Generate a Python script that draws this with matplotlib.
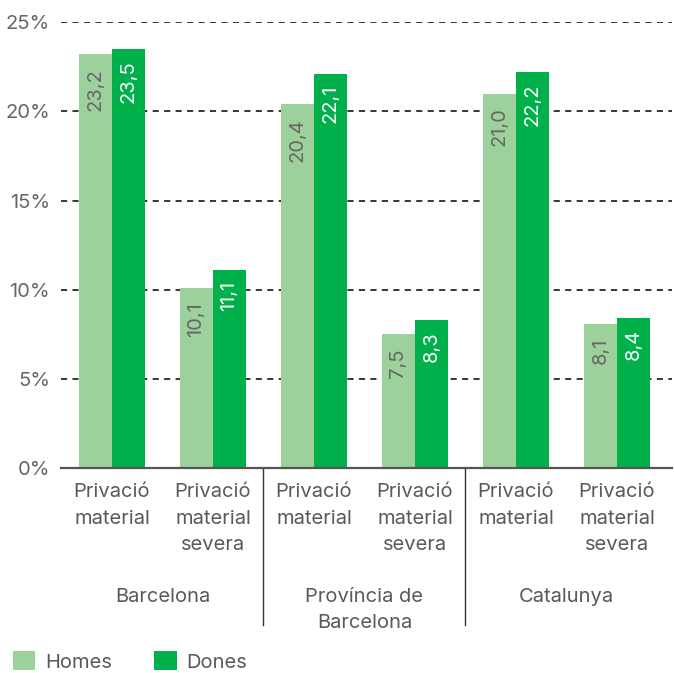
import matplotlib
matplotlib.use("Agg")
import matplotlib.pyplot as plt
import numpy as np
from matplotlib.patches import Patch

plt.rcParams['font.family'] = ['Inter', 'DejaVu Sans']

categories = ["Privació\nmaterial", "Privació\nmaterial\nsevera"] * 3
groups = ["Barcelona", "Província de\nBarcelona", "Catalunya"]
homes = [23.2, 10.1, 20.4, 7.5, 21.0, 8.1]
dones = [23.5, 11.1, 22.1, 8.3, 22.2, 8.4]
yticks = [0, 5, 10, 15, 20, 25]
series_names = ["Homes", "Dones"]

c_light = "#9dd19b"
c_dark = "#00b04b"
grey = "#666666"
text_grey = "#5a5a5a"
FS = 14.5
LS = 1.6

W, H = 674, 673
fig = plt.figure(figsize=(W / 100, H / 100), dpi=100)
ax_left, ax_right = 61 / W, 672 / W
ax_bottom, ax_top = 1 - 468 / H, 1 - 22.3 / H
ax = fig.add_axes([ax_left, ax_bottom, ax_right - ax_left, ax_top - ax_bottom])

x = np.arange(len(categories))
bw = 0.327
ax.bar(x - bw / 2, homes, width=bw, color=c_light, zorder=3)
ax.bar(x + bw / 2, dones, width=bw, color=c_dark, zorder=3)

ax.set_xlim(-0.505, 5.545)
ax.set_ylim(0, 25)

for xi, v in zip(x, homes):
    ax.annotate(f"{v:.1f}".replace(".", ","), (xi - bw / 2, v), xytext=(0, -10),
                textcoords="offset points", rotation=90, ha="center", va="top",
                fontsize=FS, color=grey, zorder=4)
for xi, v in zip(x, dones):
    ax.annotate(f"{v:.1f}".replace(".", ","), (xi + bw / 2, v), xytext=(0, -8),
                textcoords="offset points", rotation=90, ha="center", va="top",
                fontsize=FS, color="white", zorder=4)

for t in yticks[1:]:
    ax.axhline(t, xmin=0, xmax=1, color="black", lw=1.1,
               ls=(0, (4, 3.5)), zorder=1)

ax.set_yticks(yticks)
ax.set_yticklabels([f"{t}%" for t in yticks], fontsize=FS, color=grey)
ax.tick_params(axis="y", length=0, pad=8)
ax.set_xticks(x)
ax.set_xticklabels(categories, fontsize=FS, color=text_grey, linespacing=LS)
ax.tick_params(axis="x", length=0, pad=11)

for s in ["top", "right", "left"]:
    ax.spines[s].set_visible(False)
ax.spines["bottom"].set_color("#555555")
ax.spines["bottom"].set_linewidth(1.6)
ax.spines["bottom"].set_zorder(5)

# group labels and separators
trans = ax.get_xaxis_transform()
for gi, g in enumerate(groups):
    ax.text(2 * gi + 0.5, -120 / 446, g, transform=trans, ha="center", va="top",
            fontsize=FS, color=text_grey, linespacing=LS, clip_on=False)
for sep in [1.5, 3.5]:
    ax.plot([sep, sep], [0, -157 / 446], transform=trans, color="#333333",
            lw=1.0, clip_on=False)

handles = [Patch(facecolor=c_light, edgecolor="none"),
           Patch(facecolor=c_dark, edgecolor="none")]
fig.legend(handles, series_names, loc="lower left", bbox_to_anchor=(13 / W, 0.002),
           ncol=2, frameon=False, fontsize=FS, handlelength=1.1,
           handleheight=1.1, handletextpad=0.5, columnspacing=2.1,
           labelcolor=text_grey, borderaxespad=0, borderpad=0)

fig.savefig("out.png", dpi=100)
